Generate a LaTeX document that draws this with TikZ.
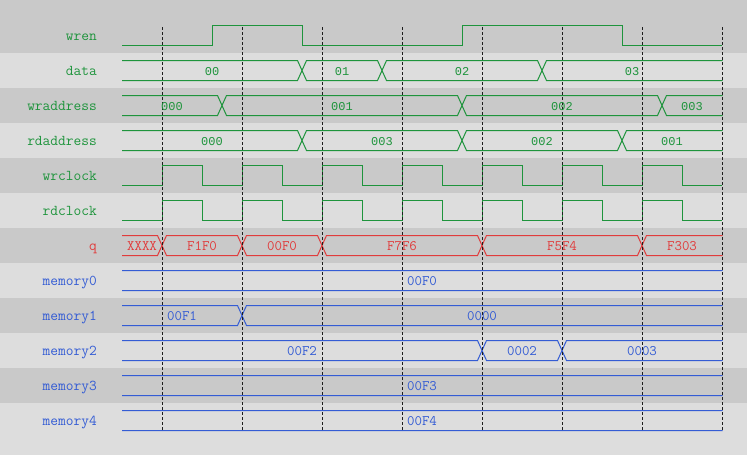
\documentclass[tikz,border=0pt]{standalone}
\usepackage{fontspec}
\newfontfamily\valfont{Liberation Mono}
\definecolor{bgdark}{RGB}{201,201,201}
\definecolor{bglight}{RGB}{221,221,221}
\definecolor{sgreen}{RGB}{30,148,60}
\definecolor{sred}{RGB}{224,60,60}
\definecolor{sblue}{RGB}{52,92,212}
\definecolor{gridc}{RGB}{30,30,30}
\newcommand\bseg[3]{% c a b
  (#2+4.5,#1-10) -- (#3-4.5,#1-10) -- (#3,#1) -- (#3-4.5,#1+10) -- (#2+4.5,#1+10) -- (#2,#1) -- cycle}
\tikzset{
  lbl/.style={anchor=base east,inner sep=0pt,font=\ttfamily\fontsize{15}{15}\selectfont},
  gval/.style={anchor=base,inner sep=0pt,text=sgreen,font=\valfont\fontsize{12}{12}\selectfont},
  tval/.style={anchor=base,inner sep=0pt,font=\ttfamily\fontsize{14.5}{14.5}\selectfont},
  sig/.style={line width=1pt},
  gridline/.style={draw=gridc,line width=0.9pt,dash pattern=on 3pt off 2pt}
}
\begin{document}
\begin{tikzpicture}[x=1pt,y=-1pt]
\useasboundingbox (0,0) rectangle (747,455);
\fill[bglight] (0,0) rectangle (747,455);
\fill[bgdark] (0,0) rectangle (747,53);
\foreach \i in {2,4,6,8,10} \fill[bgdark] (0,53+35*\i-35) rectangle (747,53+35*\i);
% wren
\draw[sig,sgreen] (122,45.5) -- (212,45.5) -- (212,25.5) -- (302,25.5) -- (302,45.5)
  -- (462,45.5) -- (462,25.5) -- (622,25.5) -- (622,45.5) -- (722,45.5);
% clocks
\foreach \c in {175.5,210.5}{
  \draw[sig,sgreen] (122,\c+10) \foreach \k in {0,...,6}{ -- (162+80*\k,\c+10) -- (162+80*\k,\c-10)
    -- (202+80*\k,\c-10) -- (202+80*\k,\c+10)} -- (722,\c+10);
}
% buses
\begin{scope}
\clip (122,0) rectangle (722.5,455);
\draw[sig,sgreen] \bseg{70.5}{110}{302} \bseg{70.5}{302}{382} \bseg{70.5}{382}{542} \bseg{70.5}{542}{734};
\draw[sig,sgreen] \bseg{105.5}{110}{222} \bseg{105.5}{222}{462} \bseg{105.5}{462}{662} \bseg{105.5}{662}{734};
\draw[sig,sgreen] \bseg{140.5}{110}{302} \bseg{140.5}{302}{462} \bseg{140.5}{462}{622} \bseg{140.5}{622}{734};
\draw[sig,sred] \bseg{245.5}{110}{162} \bseg{245.5}{162}{242} \bseg{245.5}{242}{322}
  \bseg{245.5}{322}{482} \bseg{245.5}{482}{642} \bseg{245.5}{642}{734};
\draw[sig,sblue] \bseg{280.5}{110}{734};
\draw[sig,sblue] \bseg{315.5}{110}{242} \bseg{315.5}{242}{734};
\draw[sig,sblue] \bseg{350.5}{110}{482} \bseg{350.5}{482}{562} \bseg{350.5}{562}{734};
\draw[sig,sblue] \bseg{385.5}{110}{734};
\draw[sig,sblue] \bseg{420.5}{110}{734};
\end{scope}
% grid
\foreach \k in {0,...,7} \draw[gridline] (162+80*\k,27) -- (162+80*\k,430);
% labels
\node[lbl,text=sgreen] (lwren) at (97,40) {wren};
\node[lbl,text=sgreen] (ldata) at (97,75) {data};
\node[lbl,text=sgreen] (lwra) at (97,110) {wraddress};
\node[lbl,text=sgreen] (lrda) at (97,145) {rdaddress};
\node[lbl,text=sgreen] (lwrc) at (97,180) {wrclock};
\node[lbl,text=sgreen] (lrdc) at (97,215) {rdclock};
\node[lbl,text=sred] (lq) at (97,250) {q};
\node[lbl,text=sblue] (lm0) at (97,285) {memory0};
\node[lbl,text=sblue] (lm1) at (97,320) {memory1};
\node[lbl,text=sblue] (lm2) at (97,355) {memory2};
\node[lbl,text=sblue] (lm3) at (97,390) {memory3};
\node[lbl,text=sblue] (lm4) at (97,425) {memory4};
% values
\node[gval] (d0) at (212,75) {00};
\node[gval] (d1) at (342,75) {01};
\node[gval] (d2) at (462,75) {02};
\node[gval] (d3) at (632,75) {03};
\node[gval] (w0) at (172,110) {000};
\node[gval] (w1) at (342,110) {001};
\node[gval] (w2) at (562,110) {002};
\node[gval] (w3) at (692,110) {003};
\node[gval] (r0) at (212,145) {000};
\node[gval] (r1) at (382,145) {003};
\node[gval] (r2) at (542,145) {002};
\node[gval] (r3) at (672,145) {001};
\node[tval,text=sred] (q0) at (142,250) {XXXX};
\node[tval,text=sred] (q1) at (202,250) {F1F0};
\node[tval,text=sred] (q2) at (282,250) {00F0};
\node[tval,text=sred] (q3) at (402,250) {F7F6};
\node[tval,text=sred] (q4) at (562,250) {F5F4};
\node[tval,text=sred] (q5) at (682,250) {F303};
\node[tval,text=sblue] (m0) at (422,285) {00F0};
\node[tval,text=sblue] (m1a) at (182,320) {00F1};
\node[tval,text=sblue] (m1b) at (482,320) {0000};
\node[tval,text=sblue] (m2a) at (302,355) {00F2};
\node[tval,text=sblue] (m2b) at (522,355) {0002};
\node[tval,text=sblue] (m2c) at (642,355) {0003};
\node[tval,text=sblue] (m3) at (422,390) {00F3};
\node[tval,text=sblue] (m4) at (422,425) {00F4};
\end{tikzpicture}
\end{document}
